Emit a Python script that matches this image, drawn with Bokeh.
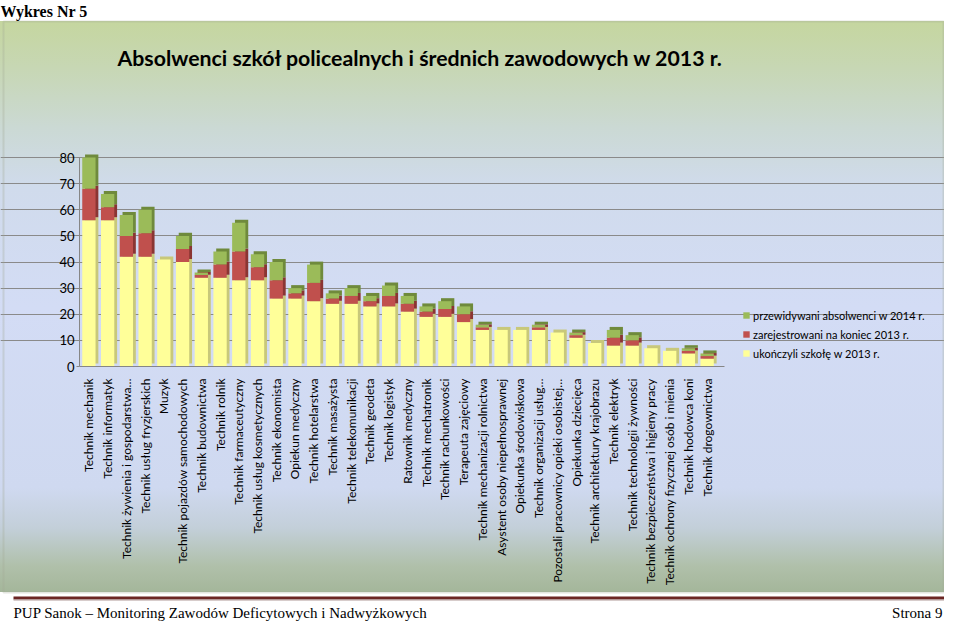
import math
import numpy as np
from bokeh.plotting import figure
from bokeh.models import (Range1d, Label, BoxAnnotation, Legend, LegendItem,
                          FixedTicker, ColumnDataSource)
from bokeh.embed import file_html
from bokeh.resources import INLINE

# ---------------- data ----------------
categories = [
    "Technik mechanik", "Technik informatyk", "Technik żywienia i gospodarstwa…",
    "Technik usług fryzjerskich", "Muzyk", "Technik pojazdów samochodowych",
    "Technik budownictwa", "Technik rolnik", "Technik farmaceutyczny",
    "Technik usług kosmetycznych", "Technik ekonomista", "Opiekun medyczny",
    "Technik hotelarstwa", "Technik masażysta", "Technik telekomunikacji",
    "Technik geodeta", "Technik logistyk", "Ratownik medyczny",
    "Technik mechatronik", "Technik rachunkowości", "Terapeuta zajęciowy",
    "Technik mechanizacji rolnictwa", "Asystent osoby niepełnosprawnej",
    "Opiekunka środowiskowa", "Technik organizacji usług…",
    "Pozostali pracownicy opieki osobistej…", "Opiekunka dziecięca",
    "Technik architektury krajobrazu", "Technik elektryk",
    "Technik technologii żywności", "Technik bezpieczeństwa i higieny pracy",
    "Technik ochrony fizycznej osób i mienia", "Technik hodowca koni",
    "Technik drogownictwa",
]
ukonczyli_2013 = [56, 56, 42, 42, 41, 40, 34, 34, 33, 33, 26, 26, 25, 24, 24, 23, 23,
                  21, 19, 19, 17, 14, 14, 14, 14, 13, 11, 9, 8, 8, 7, 6, 5, 3]
zarejestrowani_2013 = [12, 5, 8, 9, 0, 5, 1, 5, 11, 5, 7, 2, 7, 2, 3, 2, 4,
                       3, 2, 3, 3, 1, 0, 0, 1, 0, 1, 0, 3, 2, 0, 0, 1, 1]
przewidywani_2014 = [12, 5, 8, 9, 0, 5, 1, 5, 11, 5, 7, 2, 7, 2, 3, 2, 4,
                     3, 2, 3, 3, 1, 0, 0, 1, 0, 1, 0, 3, 2, 0, 0, 1, 1]
series_names = ["ukończyli szkołę w 2013 r.", "zarejestrowani na koniec 2013 r.",
                "przewidywani absolwenci w 2014 r."]
y_ticks = [0, 10, 20, 30, 40, 50, 60, 70, 80]

title_text = "Absolwenci szkół policealnych i średnich zawodowych w 2013 r."
header_text = "Wykres Nr 5"
footer_left = "PUP Sanok – Monitoring Zawodów Deficytowych i Nadwyżkowych"
footer_right = "Strona 9"

# ---------------- layout (pixels inside the figure) ----------------
W, H = 944, 622
CAT0_PX = 88.4        # centre of the first category
CAT_STEP_PX = 18.735  # distance between categories
Y0_PX = 366.0         # value 0
PX_PER_UNIT = 209.0 / 80.0

x_lo = -CAT0_PX / CAT_STEP_PX
x_hi = (W - CAT0_PX) / CAT_STEP_PX
y_hi = Y0_PX / PX_PER_UNIT
y_lo = -(H - Y0_PX) / PX_PER_UNIT


def px_x(px):
    return x_lo + px / CAT_STEP_PX


def px_y(py):
    return y_hi - py / PX_PER_UNIT


front_colors = ["#ffff99", "#c0504d", "#9bbb59"]
side_colors = ["#c8c87a", "#8a3533", "#6f8a3c"]
BAR_W = 0.71
DEPTH_X = 0.15
DEPTH_Y = 1.15
LABEL_FONT = "Lato"
BOX_TOP, BOX_BOTTOM = 21, 592

# ---------------- figure ----------------
p = figure(width=W, height=H, x_range=Range1d(x_lo, x_hi), y_range=Range1d(y_lo, y_hi),
           output_backend="svg", toolbar_location=None, min_border=0, title=None)
p.background_fill_color = None
p.border_fill_color = None
p.outline_line_color = None
p.styles = {
    "background": (
        f"linear-gradient(to bottom, #ffffff 0px, #ffffff {BOX_TOP}px, "
        f"#c5d69f {BOX_TOP}px, #c7d7b4 68px, #cbd9d4 128px, #d0dbec 188px, "
        f"#d3dcf5 308px, #cfd9f0 488px, #c3cfd9 528px, #b0c0aa 566px, "
        f"#a4b69a {BOX_BOTTOM}px, #ffffff {BOX_BOTTOM}px, #ffffff 100%)"
    ),
}

# bars
x_pos = np.arange(len(categories), dtype=float)
s0 = np.array(ukonczyli_2013, dtype=float)
s1 = np.array(zarejestrowani_2013, dtype=float)
s2 = np.array(przewidywani_2014, dtype=float)
bottoms = [np.zeros_like(s0), s0, s0 + s1]
tops = [s0, s0 + s1, s0 + s1 + s2]
src = ColumnDataSource(dict(x=x_pos, xd=x_pos + DEPTH_X))
for i in range(3):
    src.data[f"b{i}"] = bottoms[i]
    src.data[f"t{i}"] = tops[i]
    src.data[f"db{i}"] = bottoms[i] + DEPTH_Y
    src.data[f"dt{i}"] = tops[i] + DEPTH_Y

for i in range(3):
    p.vbar(x="xd", bottom=f"db{i}", top=f"dt{i}", width=BAR_W, source=src,
           fill_color=side_colors[i], line_color=None)
fronts = []
for i in range(3):
    fronts.append(p.vbar(x="x", bottom=f"b{i}", top=f"t{i}", width=BAR_W, source=src,
                         fill_color=front_colors[i], line_color=None))

# axes
xa = p.xaxis[0]
xa.fixed_location = 0
xa.bounds = (-0.5, 33.9)
xa.ticker = FixedTicker(ticks=list(x_pos))
xa.major_label_overrides = {float(i): c for i, c in enumerate(categories)}
xa.major_label_orientation = math.pi / 2
xa.axis_line_color = "#868686"
xa.major_tick_line_color = None
xa.minor_tick_line_color = None
xa.major_label_text_font = LABEL_FONT
xa.major_label_text_font_size = "12px"
xa.major_label_text_color = "#000000"
xa.major_label_standoff = 6

ya = p.yaxis[0]
ya.fixed_location = -0.5
ya.bounds = (0, 80)
ya.ticker = FixedTicker(ticks=y_ticks)
ya.axis_line_color = "#868686"
ya.major_tick_line_color = "#868686"
ya.major_tick_out = 3
ya.major_tick_in = 0
ya.minor_tick_line_color = None
ya.major_label_text_font = LABEL_FONT
ya.major_label_text_font_size = "13px"
ya.major_label_text_color = "#000000"
ya.major_label_standoff = 2

p.xgrid.visible = False
p.ygrid.ticker = FixedTicker(ticks=y_ticks[1:])
p.ygrid.bounds = (-0.5, 33.9)
p.ygrid.grid_line_color = "#8a8a8a"
p.ygrid.grid_line_width = 1

# chart box border
p.add_layout(BoxAnnotation(left=px_x(3), right=px_x(W - 1), top=px_y(BOX_TOP),
                           bottom=px_y(BOX_BOTTOM), fill_alpha=0,
                           line_color="#a2a995", line_width=2, level="underlay"))

# texts
p.add_layout(Label(x=px_x(0), y=px_y(11), text=header_text, text_font="Liberation Serif",
                   text_font_style="bold", text_font_size="16px", text_color="#000000",
                   text_baseline="alphabetic"))
p.add_layout(Label(x=px_x(117), y=px_y(57), text=title_text, text_font=LABEL_FONT,
                   text_font_style="bold", text_font_size="21.3px", text_color="#000000",
                   text_baseline="alphabetic"))

legend = Legend(items=[LegendItem(label=series_names[2], renderers=[fronts[2]]),
                       LegendItem(label=series_names[1], renderers=[fronts[1]]),
                       LegendItem(label=series_names[0], renderers=[fronts[0]])],
                location=(742, H - 362.5), orientation="vertical",
                background_fill_alpha=0, border_line_color=None,
                label_text_font=LABEL_FONT, label_text_font_size="11px",
                label_text_color="#000000",
                glyph_width=8, glyph_height=8, label_height=19, spacing=0,
                padding=0, margin=0, label_standoff=3)
p.add_layout(legend)

# footer
p.add_layout(BoxAnnotation(left=px_x(13), right=px_x(W), top=px_y(596), bottom=px_y(599),
                           fill_color="#6b2523", fill_alpha=1, line_color=None))
p.add_layout(BoxAnnotation(left=px_x(13), right=px_x(W), top=px_y(599), bottom=px_y(600),
                           fill_color="#b09a98", fill_alpha=1, line_color=None))
p.add_layout(Label(x=px_x(13), y=px_y(612), text=footer_left, text_font="Liberation Serif",
                   text_font_size="15px", text_color="#000000", text_baseline="alphabetic"))
p.add_layout(Label(x=px_x(942), y=px_y(612), text=footer_right, text_font="Liberation Serif",
                   text_font_size="15px", text_color="#000000", text_align="right",
                   text_baseline="alphabetic"))

open("out.html", "w").write(file_html(p, INLINE))
